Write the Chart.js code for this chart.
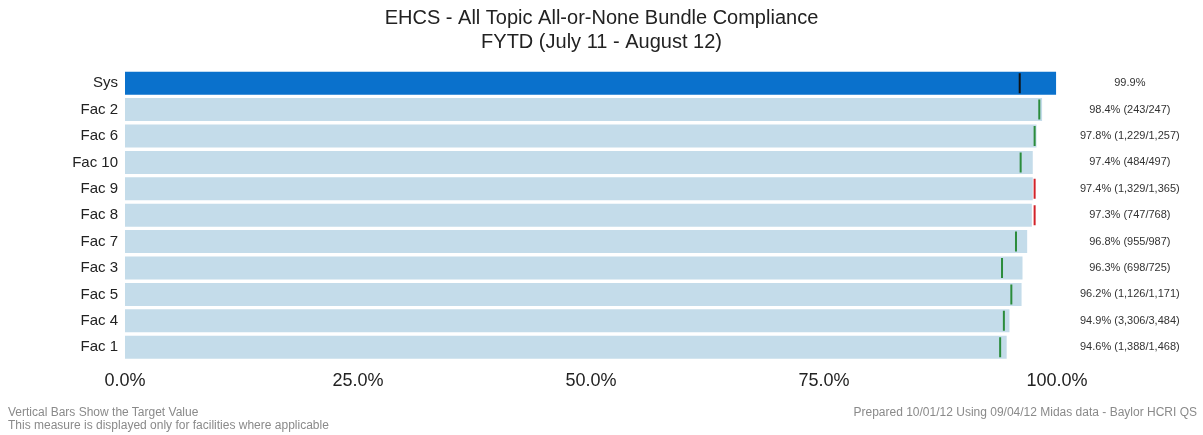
<!DOCTYPE html>
<html>
<head>
<meta charset="utf-8">
<script src="https://cdn.jsdelivr.net/npm/chart.js@4"></script>
<style>
  html, body { margin: 0; padding: 0; background: #fff; }
  #wrap { position: relative; width: 1203px; height: 435px; }
  .note { position: absolute; font: 12px "Liberation Sans", Arial, sans-serif; color: #8a8a8a; line-height: 13px; }
</style>
</head>
<body>
<div id="wrap">
  <canvas id="myChart" width="1203" height="435"></canvas>
  <div class="note" style="left:8px; top:406px;">Vertical Bars Show the Target Value<br>This measure is displayed only for facilities where applicable</div>
  <div class="note" style="right:6px; top:406px;">Prepared 10/01/12 Using 09/04/12 Midas data - Baylor HCRI QS</div>
</div>
<script>
var categories = ['Sys', 'Fac 2', 'Fac 6', 'Fac 10', 'Fac 9', 'Fac 8', 'Fac 7', 'Fac 3', 'Fac 5', 'Fac 4', 'Fac 1'];
var compliance = [99.9, 98.4, 97.8, 97.4, 97.4, 97.3, 96.8, 96.3, 96.2, 94.9, 94.6];
var targets = [96.0, 98.1, 97.6, 96.1, 97.6, 97.6, 95.6, 94.1, 95.1, 94.3, 93.9];
var countLabels = ['99.9%', '98.4% (243/247)', '97.8% (1,229/1,257)', '97.4% (484/497)', '97.4% (1,329/1,365)',
    '97.3% (747/768)', '96.8% (955/987)', '96.3% (698/725)', '96.2% (1,126/1,171)', '94.9% (3,306/3,484)', '94.6% (1,388/1,468)'];
var xTicks = [0, 25, 50, 75, 100];

var barColors = categories.map(function(c, i) { return i === 0 ? '#0a71cc' : '#c4dcea'; });
var targetColors = categories.map(function(c, i) {
    if (i === 0) return '#111111';
    return compliance[i] >= targets[i] ? '#2b8c3c' : '#d2232a';
});

var font = '"Liberation Sans", Arial, sans-serif';
var ctx = document.getElementById('myChart').getContext('2d');
var chart = new Chart(ctx, {
    type: 'bar',
    data: {
        labels: categories,
        datasets: [{
            label: 'Compliance',
            data: compliance,
            backgroundColor: barColors,
            categoryPercentage: 0.87,
            barPercentage: 1,
            order: 2
        }, {
            type: 'line',
            label: 'Target',
            indexAxis: 'y',
            data: targets,
            showLine: false,
            pointStyle: 'line',
            rotation: 90,
            pointRadius: 10,
            pointHoverRadius: 10,
            pointBorderWidth: 2,
            pointBorderColor: targetColors,
            pointBackgroundColor: targetColors,
            order: 1
        }]
    },
    options: {
        indexAxis: 'y',
        responsive: false,
        animation: false,
        layout: { padding: { top: 6, bottom: 33, left: 0, right: 0 } },
        plugins: {
            legend: { display: false },
            tooltip: { enabled: false },
            title: {
                display: true,
                text: ['EHCS - All Topic All-or-None Bundle Compliance', 'FYTD (July 11 - August 12)'],
                color: '#222',
                font: { family: font, size: 20, weight: 'normal', lineHeight: 1.2 },
                padding: { top: 0, bottom: 16 }
            }
        },
        scales: {
            x: {
                min: 0,
                max: 100,
                afterBuildTicks: function(scale) {
                    scale.ticks = xTicks.map(function(v) { return { value: v }; });
                },
                grid: { display: false, drawTicks: false },
                border: { display: false },
                ticks: {
                    color: '#222',
                    padding: 10,
                    font: { family: font, size: 18 },
                    callback: function(v) { return v.toFixed(1) + '%'; }
                }
            },
            y: {
                grid: { display: false, drawTicks: false },
                border: { display: false },
                afterFit: function(scale) { scale.width = 125; },
                ticks: { color: '#222', padding: 7, font: { family: font, size: 15 } }
            },
            y2: {
                type: 'category',
                position: 'right',
                labels: countLabels,
                offset: true,
                grid: { display: false, drawTicks: false },
                border: { display: false },
                afterFit: function(scale) { scale.width = 146; },
                ticks: { color: '#333', padding: 23, crossAlign: 'center', font: { family: font, size: 11 } }
            }
        }
    }
});
</script>
</body>
</html>
